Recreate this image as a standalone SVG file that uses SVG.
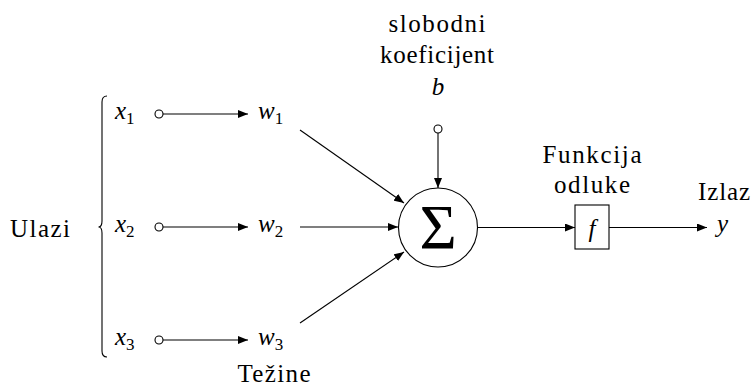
<svg xmlns="http://www.w3.org/2000/svg" width="751" height="387" viewBox="0 0 751 387" font-family="'Liberation Serif', 'DejaVu Serif', serif">
<style>
text{font-size:25px;fill:#000}
.m{font-style:italic}
.s{font-style:normal;font-size:17px}
.c{text-anchor:middle}
.ln{stroke:#000;stroke-width:1.1;fill:none}
.oc{fill:#fff;stroke:#000;stroke-width:1.1}
</style>
<defs>
<marker id="ah" viewBox="0 0 10 8" refX="10" refY="4" markerWidth="10" markerHeight="8" markerUnits="userSpaceOnUse" orient="auto">
<path d="M0,0 L10,4 L0,8 Z" fill="#000"/>
</marker>
</defs>
<g id="labels">
<text x="10" y="237" textLength="60">Ulazi</text>
<text x="274" y="382" class="c" textLength="73">Težine</text>
<text x="437" y="32" class="c" textLength="97">slobodni</text>
<text x="437" y="63" class="c" textLength="114">koeficijent</text>
<text x="592" y="163" class="c" textLength="99">Funkcija</text>
<text x="592" y="193" class="c" textLength="76">odluke</text>
<text x="698" y="200" textLength="52">Izlaz</text>
</g>
<g id="brace">
<path class="ln" d="M107 96 Q102 96 102 102 L102 221 Q102 227 98.5 227 Q102 227 102 233 L102 351 Q102 357 107 357"/>
</g>
<g id="x1"><text x="115" y="119" class="m">x<tspan class="s" dy="5">1</tspan></text><circle class="oc" cx="159" cy="114" r="4"/></g>
<g id="x2"><text x="115" y="232" class="m">x<tspan class="s" dy="5">2</tspan></text><circle class="oc" cx="159" cy="227" r="4"/></g>
<g id="x3"><text x="115" y="345" class="m">x<tspan class="s" dy="5">3</tspan></text><circle class="oc" cx="159" cy="340" r="4"/></g>
<g id="w1"><text x="258" y="119" class="m">w<tspan class="s" dy="5">1</tspan></text></g>
<g id="w2"><text x="258" y="232" class="m">w<tspan class="s" dy="5">2</tspan></text></g>
<g id="w3"><text x="258" y="345" class="m">w<tspan class="s" dy="5">3</tspan></text></g>
<g id="bias"><text x="438" y="95" class="m c">b</text><circle class="oc" cx="438" cy="129" r="4"/></g>
<g id="sum"><circle cx="438" cy="227.5" r="39.5" fill="#fff" stroke="#000" stroke-width="1.1"/><text x="438" y="249" class="c" style="font-size:64px">Σ</text></g>
<g id="activation"><rect x="575" y="205" width="34" height="44" fill="#fff" stroke="#000" stroke-width="1.1"/><text x="592" y="237" class="m c">f</text></g>
<g id="output"><text x="717" y="232" class="m">y</text></g>
<g id="connectors">
<line class="ln" x1="163" y1="114" x2="248" y2="114" marker-end="url(#ah)"/>
<line class="ln" x1="163" y1="227" x2="248" y2="227" marker-end="url(#ah)"/>
<line class="ln" x1="163" y1="340" x2="248" y2="340" marker-end="url(#ah)"/>
<line class="ln" x1="300" y1="130" x2="404" y2="203" marker-end="url(#ah)"/>
<line class="ln" x1="300" y1="227" x2="398" y2="227" marker-end="url(#ah)"/>
<line class="ln" x1="300" y1="323" x2="404" y2="252" marker-end="url(#ah)"/>
<line class="ln" x1="438" y1="133" x2="438" y2="188" marker-end="url(#ah)"/>
<line class="ln" x1="477.5" y1="227.5" x2="575" y2="227.5" marker-end="url(#ah)"/>
<line class="ln" x1="609" y1="227.5" x2="707" y2="227.5" marker-end="url(#ah)"/>
</g>
</svg>
